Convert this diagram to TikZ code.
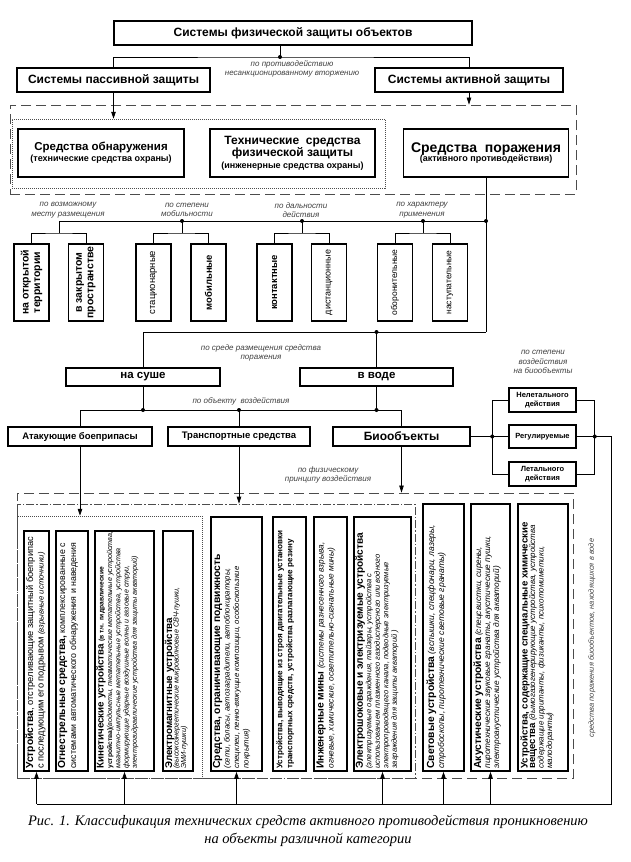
\documentclass[tikz,border=0pt]{standalone}
\usepackage{fontspec}
\setmainfont{Liberation Sans}
\newfontfamily\capfont{Liberation Serif}
\usetikzlibrary{arrows.meta,calc}
\newcommand{\fs}[2]{\fontsize{#1}{#2}\selectfont}
\begin{document}
\begin{tikzpicture}[x=1pt,y=-1pt,
  box/.style={draw, line width=1.5pt, inner sep=1pt, align=center},
  lab/.style={font=\fs{8}{9.5}\itshape, align=center, text=black!75, inner sep=0},
  ln/.style={line width=0.75pt},
  arr/.style={ln,-{Triangle[length=7pt,width=4.5pt]}},
  dot/.style={circle, fill, inner sep=0, minimum size=4pt},
  dsh/.style={draw=black!70, line width=0.8pt, dash pattern=on 10pt off 5pt, inner sep=0},
  dtd/.style={draw=black!70, line width=0.5pt, dash pattern=on 1pt off 1pt, inner sep=0},
  dsd/.style={draw=black!70, line width=0.7pt, dash pattern=on 8pt off 2pt on 1.5pt off 2pt, inner sep=0},
  rt/.style={rotate=90, inner sep=0, align=left, anchor=north west},
  rc/.style={rotate=90, inner sep=0, align=center},
]
\useasboundingbox (0,0) rectangle (630,862);

% ---------- top ----------
\node[box, minimum width=358, minimum height=24, font=\fs{12}{14}\bfseries] (top) at (293,33) {Системы физической защиты объектов};
\node[box, minimum width=193, minimum height=24, font=\fs{12}{14}\bfseries] (pas) at (113.5,80) {Системы пассивной защиты};
\node[box, minimum width=188, minimum height=24, font=\fs{12}{14}\bfseries] (act) at (469,80) {Системы активной защиты};
\coordinate (j0) at (280,57);
\draw[ln] (top.south -| j0) -- (j0);
\draw[ln] (pas.north) |- (j0) -| (act.north);
\node[dot] at (j0) {};
\node[lab] (l0) at (292,69) {по противодействию\\несанкционированному вторжению};

% ---------- group frames ----------
\node[dsh, minimum width=566, minimum height=89] (fr1) at (293,149.5) {};
\node[dtd, minimum width=373, minimum height=69] (fr2) at (198.5,153.5) {};
\draw[arr] (pas.south) -- (pas.south |- fr2.north);
\draw[arr] (act.south) -- (act.south |- fr1.north);

\node[box, minimum width=166, minimum height=48] (obn) at (101,153) {{\fs{11.5}{13}\bfseries Средства обнаружения}\\[-1pt]{\fs{9}{10}\bfseries (технические средства охраны)}};
\node[box, minimum width=165, minimum height=48] (teh) at (292.5,153) {{\fs{12}{13}\bfseries Технические\ \ средства}\\{\fs{12}{13}\bfseries физической защиты}\\{\fs{9}{10}\bfseries (инженерные средства охраны)}};
\node[box, minimum width=165, minimum height=48] (por) at (486,153) {{\fs{14}{14}\bfseries Средства\ \ поражения}\\[-3pt]{\fs{9}{10}\bfseries (активного противодействия)}};

% ---------- classification row ----------
\coordinate (v1) at (486,221);
\coordinate (v2) at (486,332);
\draw[ln] (por.south) -- (v2);
\foreach \n/\x in {m1/31.5,m2/86,m3/153.5,m4/208.5,m5/274.5,m6/329,m7/395,m8/450}
  \node[box, minimum width=35, minimum height=77] (\n) at (\x,282.5) {};
\coordinate (g1t) at (59,221);   \coordinate (g1b) at (59,233);
\coordinate (g2t) at (182,221);  \coordinate (g2b) at (182,233);
\coordinate (g3t) at (302,221);  \coordinate (g3b) at (302,233);
\coordinate (g4t) at (423,221);  \coordinate (g4b) at (423,233);
\draw[ln] (g1t) -- (v1);
\draw[ln] (m1.north) |- (g1b) -| (m2.north);  \draw[ln] (g1b) -- (g1t);
\draw[ln] (m3.north) |- (g2b) -| (m4.north);  \draw[ln] (g2b) -- (g2t);
\draw[ln] (m5.north) |- (g3b) -| (m6.north);  \draw[ln] (g3b) -- (g3t);
\draw[ln] (m7.north) |- (g4b) -| (m8.north);  \draw[ln] (g4b) -- (g4t);
\foreach \c in {g2t,g3t,g4t,v1} \node[dot] at (\c) {};
\node[lab] (lg1) at (68,210) {по возможному\\месту размещения};
\node[lab] (lg2) at (187,210) {по степени\\мобильности};
\node[lab] (lg3) at (301,210) {по дальности\\действия};
\node[lab] (lg4) at (422,210) {по характеру\\применения};

\node[rc, font=\fs{10.5}{11.5}\bfseries] at (m1) {на открытой\\территории};
\node[rc, font=\fs{10.5}{11.5}\bfseries] at (m2) {в закрытом\\пространстве};
\node[rc, font=\fs{9.5}{11}] at (m3) {стационарные};
\node[rc, font=\fs{9.5}{11}\bfseries] at (m4) {мобильные};
\node[rc, font=\fs{9.5}{11}\bfseries] at (m5) {контактные};
\node[rc, font=\fs{9}{11}] at (m6) {дистанционные};
\node[rc, font=\fs{8.5}{11}] at (m7) {оборонительные};
\node[rc, font=\fs{8.5}{11}] at (m8) {наступательные};

% ---------- environment ----------
\node[box, minimum width=154, minimum height=18, font=\fs{11.5}{13}\bfseries] (sushe) at (143,377) {на суше};
\node[box, minimum width=153, minimum height=18, font=\fs{11.5}{13}\bfseries] (voda) at (376.5,377) {в воде};
\draw[ln] (sushe.north) |- (v2);
\draw[ln] (voda.north) -- (voda.north |- v2);
\node[dot] at (voda.north |- v2) {};
\node[lab] (lsr) at (261,353) {по среде размещения средства\\поражения};

% ---------- object row ----------
\node[box, minimum width=144, minimum height=19, font=\fs{9.5}{11}\bfseries] (atak) at (80,436.5) {Атакующие боеприпасы};
\node[box, minimum width=142, minimum height=19, font=\fs{9.5}{11}\bfseries] (trans) at (239,436.5) {Транспортные средства};
\node[box, minimum width=137, minimum height=19, font=\fs{12}{13}\bfseries] (bio) at (401.5,436.5) {Биообъекты};
\coordinate (h3) at (0,410);
\draw[ln] (atak.north) |- (bio.north |- h3) -- (bio.north);
\draw[ln] (sushe.south) -- (sushe.south |- h3);
\draw[ln] (voda.south) -- (voda.south |- h3);
\draw[ln] (trans.north) -- (trans.north |- h3);
\foreach \c in {sushe.south, voda.south, trans.north} \node[dot] at (\c |- h3) {};
\node[lab] (lob) at (241,401) {по объекту\ \ воздействия};

% ---------- bio degree ----------
\node[box, minimum width=67, minimum height=24, font=\fs{7.5}{9}\bfseries] (nl) at (542.5,400) {Нелетального\\действия};
\node[box, minimum width=67, minimum height=23, font=\fs{7.5}{9}\bfseries] (reg) at (542.5,436.5) {Регулируемые};
\node[box, minimum width=67, minimum height=24, font=\fs{7.5}{9}\bfseries] (let) at (542.5,474) {Летального\\действия};
\node[lab] (lst) at (543,362) {по степени\\воздействия\\на биообъекты};
\draw[ln] (bio.east) -- (reg.west);
\draw[ln] (nl.west) -- ++(-16,0) |- (let.west);
\draw[ln] (nl.east) -- ++(18,0) |- (let.east);
\node[dot] at ($(reg.west)+(-16,0)$) {};
\node[dot] at ($(reg.east)+(18,0)$) {};
\node[lab] (lfz) at (328,475) {по физическому\\принципу воздействия};

% ---------- bottom frames ----------
\node[dsh, minimum width=556, minimum height=285] (fb1) at (295,635.5) {};
\node[dsd, minimum width=398, minimum height=274] (fb2) at (216,641) {};
\node[dtd, minimum width=185, minimum height=262] (fb3) at (109.5,647) {};
\draw[arr] (atak.south) -- (atak.south |- fb3.north);
\draw[arr] (trans.south) -- (trans.south |- fb2.north);
\draw[arr] (bio.south) -- (bio.south |- fb1.north);

\node[box, minimum width=25, minimum height=240] (b1) at (36.5,651) {};
\node[box, minimum width=32, minimum height=240] (b2) at (72,651) {};
\node[box, minimum width=59, minimum height=240] (b3) at (124.5,651) {};
\node[box, minimum width=30, minimum height=240] (b4) at (178,651) {};
\node[box, minimum width=51, minimum height=254] (b5) at (236.5,644) {};
\node[box, minimum width=33, minimum height=254] (b6) at (289.5,644) {};
\node[box, minimum width=33, minimum height=254] (b7) at (330.5,644) {};
\node[box, minimum width=57, minimum height=254] (b8) at (382.5,644) {};
\node[box, minimum width=41, minimum height=267] (b9) at (443.5,637.5) {};
\node[box, minimum width=39, minimum height=267] (b10) at (490.5,637.5) {};
\node[box, minimum width=50, minimum height=267] (b11) at (543,637.5) {};

\node[rt, font=\fs{9.3}{10.5}] (t1) at ($(b1.south west)+(2,-3)$) {{\fs{10.3}{11}\bfseries Устройства}, отстреливающие защитный боеприпас\\с последующим его подрывом {\fs{7.8}{8}\itshape (взрывные источники)}};
\node[rt, font=\fs{8.8}{11}] (t2) at ($(b2.south west)+(2.5,-3)$) {{\fs{10.3}{11}\bfseries Огнестрельные средства,} комплексированные с\\системами автоматического обнаружения и наведения};
\node[rt, font=\fs{7.2}{8.3}\itshape] (t3) at ($(b3.south west)+(2,-3)$) {{\fs{9.8}{11}\bfseries\upshape Кинетические устройства} {\fs{6.7}{8}\bfseries\upshape (в т.ч. гидравлические}\\{\fs{6.7}{8}\bfseries\upshape устройства)}(водометы, пневматические метательные устройства,\\магнитно-импульсные метательные устройства, устройства\\формирующие ударные воздушные волны и газовые струи,\\электрогидравлические устройства для защиты акваторий)};
\node[rt, font=\fs{7.3}{7.5}\itshape] (t4) at ($(b4.south west)+(2.5,-3)$) {{\fs{9.8}{11}\bfseries\upshape Электромагнитные устройства}\\[-1pt](высокоэнергетические микроволновые СВЧ-пушки,\\ЭМИ-пушки)};
\node[rt, font=\fs{7.8}{9.5}\itshape] (t5) at ($(b5.south west)+(2.5,-3)$) {{\fs{10.3}{11}\bfseries\upshape Средства, ограничивающие подвижность}\\(сети, боласы, автозаградители, автоблокираторы,\\спецклеи, пенно-вяжущие композиции, особоскользкие\\покрытия)};
\node[rt, font=\fs{8.1}{10}\bfseries] (t6) at ($(b6.south west)+(4,-3)$) {Устройства, выводящие из строя двигательные установки\\транспортных средств, устройства разлагающие резину};
\node[rt, font=\fs{8.3}{10}\itshape] (t7) at ($(b7.south west)+(3,-3)$) {{\fs{10.3}{11}\bfseries\upshape Инженерные мины} (системы разнесенного взрыва,\\огневые, химические, осветительно-сигнальные мины)};
\node[rt, font=\fs{7.6}{8.5}\itshape] (t8) at ($(b8.south west)+(2,-3)$) {{\fs{10.1}{11}\bfseries\upshape Электрошоковые и электризуемые устройства}\\(электризуемые ограждения, тайзеры, устройства с\\использованием плазменного газодисперсного или водного\\электропроводящего канала, подводные электризуемые\\заграждения для защиты акваторий )};
\node[rt, font=\fs{8.6}{10}\itshape] (t9) at ($(b9.south west)+(4,-3)$) {{\fs{10.3}{11}\bfseries\upshape Световые устройства} (вспышки, спецфонари, лазеры,\\стробоскопы, пиротехнические световые гранаты)};
\node[rt, font=\fs{8.3}{9}\itshape] (t10) at ($(b10.south west)+(3,-3)$) {{\fs{10.3}{11}\bfseries\upshape Акустические устройства} (спецсвистки, сирены,\\пиротехнические звуковые гранаты, акустические пушки,\\электроакустические устройства для акваторий)};
\node[rt, font=\fs{8}{8.5}\itshape] (t11) at ($(b11.south west)+(3,-3)$) {{\fs{9.6}{11}\bfseries\upshape Устройства, содержащие специальные химические}\\[-1pt]{\fs{9.6}{11}\bfseries\upshape вещества} (дымогазогенерирующие устройства, устройства\\содержащие ирританты, физиканты, психотомиметики,\\малодоранты)};

\node[lab, rotate=90, font=\fs{7.5}{9}\itshape] (lvd) at (592,638) {средства поражения биообъектов, находящихся в воде};

% ---------- bottom connectors ----------
\coordinate (base) at (0,804);
\draw[ln] (reg.east) -| (611,804) -- (b1.south |- base);
\foreach \b in {b1,b3,b5,b8,b9,b10}
  \draw[arr] (\b.south |- base) -- (\b.south);

% ---------- caption ----------
\node[font=\capfont\itshape\fs{14.5}{18}, align=center, inner sep=0] (cap) at (308,831) {Рис. 1. Классификация технических средств активного противодействия проникновению\\на объекты различной категории};
\end{tikzpicture}
\end{document}
